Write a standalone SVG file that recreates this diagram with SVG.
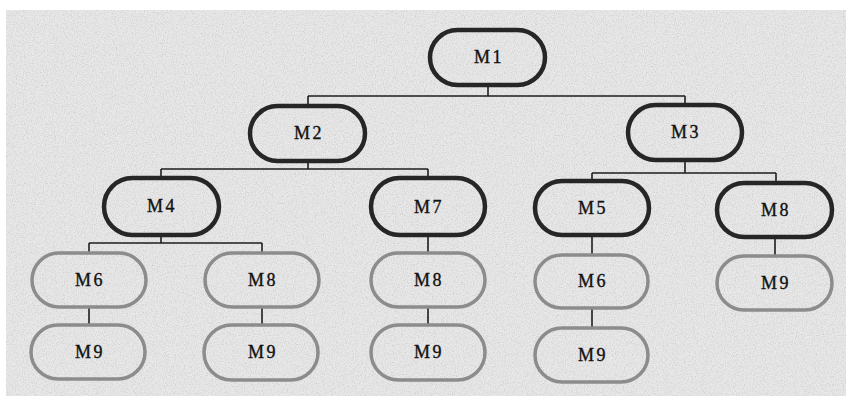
<svg xmlns="http://www.w3.org/2000/svg" width="853" height="399" viewBox="0 0 853 399">
  <defs>
    <filter id="grain" x="0" y="0" width="100%" height="100%">
      <feTurbulence type="fractalNoise" baseFrequency="0.9" numOctaves="2" seed="4" result="n"/>
      <feColorMatrix type="matrix" values="0 0 0 0 0.45  0 0 0 0 0.45  0 0 0 0 0.45  0 0 0 -2.2 1.25" in="n"/>
    </filter>
  </defs>
  <style>
    .paper { fill: #e8e8e8; }
    .node rect { fill: none; }
    .dark rect { stroke: #262626; stroke-width: 4.5; }
    .light rect { stroke: #8c8c8c; stroke-width: 3.5; }
    .node text { font-family: "Liberation Serif", "DejaVu Serif", serif; font-size: 18px; fill: #111; text-anchor: middle; dominant-baseline: central; letter-spacing: 2.5px; stroke: #111; stroke-width: 0.35; }
    #connectors path { fill: none; stroke: #1e1e1e; stroke-width: 1.6; }
  </style>

  <rect width="853" height="399" fill="#ffffff"/>
  <rect class="paper" x="6" y="10" width="840" height="386"/>
  <rect x="6" y="10" width="840" height="386" filter="url(#grain)" opacity="0.5"/>

  <g id="connectors">
    <!-- M1 to M2 / M3 -->
    <path d="M488 85 V96 M308 96 H685 M308 96 V105 M685 96 V105"/>
    <!-- M2 to M4 / M7 -->
    <path d="M308 161 V169 M161 169 H428 M161 169 V177 M428 169 V178"/>
    <!-- M3 to M5 / M8 -->
    <path d="M685 160 V173 M592 173 H776 M592 173 V181 M776 173 V183"/>
    <!-- M4 to M6 / M8 -->
    <path d="M161 235 V243 M89 243 H262 M89 243 V253 M262 243 V253"/>
    <!-- chains down to M9 -->
    <path d="M89 307 V325 M262 307 V325"/>
    <path d="M428 235 V253 M428 307 V325"/>
    <path d="M592 235 V255 M592 308 V328"/>
    <path d="M775 237 V256"/>
  </g>

  <g id="m1" class="node dark"><rect x="430" y="30" width="115" height="55" rx="27.5"/><text x="489" y="57">M1</text></g>
  <g id="m2" class="node dark"><rect x="250" y="106" width="115" height="55" rx="27.5"/><text x="309" y="133">M2</text></g>
  <g id="m3" class="node dark"><rect x="628" y="105" width="114" height="55" rx="27.5"/><text x="686" y="132">M3</text></g>
  <g id="m4" class="node dark"><rect x="104" y="178" width="115" height="57" rx="28.5"/><text x="162" y="206">M4</text></g>
  <g id="m7" class="node dark"><rect x="371" y="178" width="114" height="57" rx="28.5"/><text x="429" y="207">M7</text></g>
  <g id="m5" class="node dark"><rect x="535" y="181" width="114" height="54" rx="27"/><text x="593" y="208">M5</text></g>
  <g id="m8-right" class="node dark"><rect x="717" y="183" width="115" height="54" rx="27"/><text x="776" y="210">M8</text></g>

  <g id="m6-left" class="node light"><rect x="32" y="253" width="114" height="54" rx="27"/><text x="90" y="280">M6</text></g>
  <g id="m8-left" class="node light"><rect x="205" y="253" width="114" height="54" rx="27"/><text x="263" y="280">M8</text></g>
  <g id="m8-mid" class="node light"><rect x="371" y="253" width="114" height="54" rx="27"/><text x="429" y="280">M8</text></g>
  <g id="m6-right" class="node light"><rect x="535" y="255" width="113" height="53" rx="26.5"/><text x="593" y="281">M6</text></g>
  <g id="m9-right" class="node light"><rect x="717" y="256" width="115" height="54" rx="27"/><text x="776" y="283">M9</text></g>

  <g id="m9-a" class="node light"><rect x="31" y="325" width="114" height="54" rx="27"/><text x="90" y="352">M9</text></g>
  <g id="m9-b" class="node light"><rect x="204" y="325" width="114" height="55" rx="27.5"/><text x="263" y="352">M9</text></g>
  <g id="m9-c" class="node light"><rect x="371" y="325" width="114" height="55" rx="27.5"/><text x="429" y="352">M9</text></g>
  <g id="m9-d" class="node light"><rect x="535" y="328" width="113" height="54" rx="27"/><text x="593" y="355">M9</text></g>
</svg>
